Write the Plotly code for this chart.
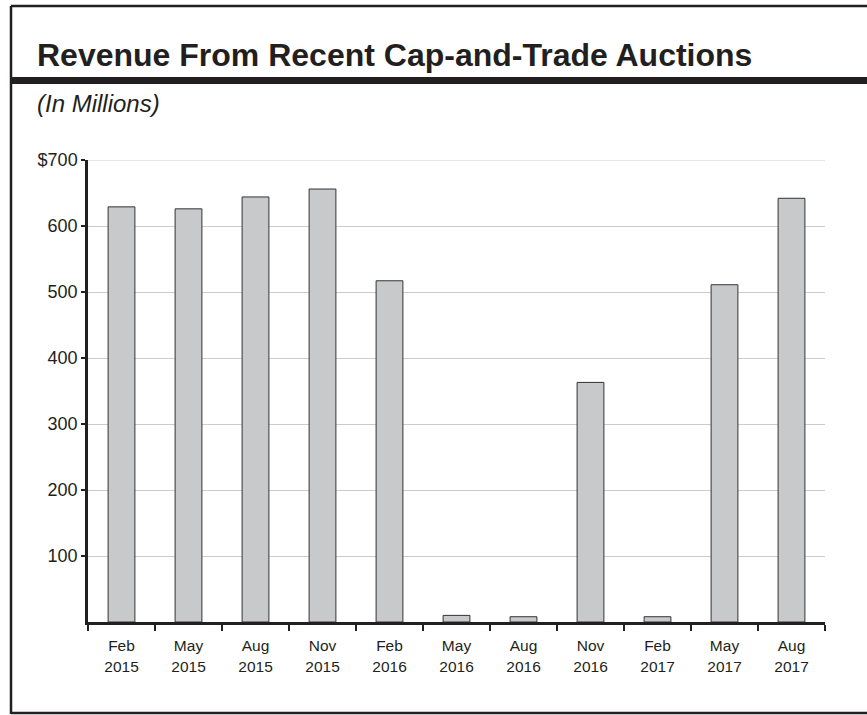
import plotly.graph_objects as go

categories = ["Feb<br>2015", "May<br>2015", "Aug<br>2015", "Nov<br>2015", "Feb<br>2016",
              "May<br>2016", "Aug<br>2016", "Nov<br>2016", "Feb<br>2017", "May<br>2017", "Aug<br>2017"]
revenue = [629, 626, 644, 656, 517, 10, 8, 363, 8, 511, 642]
tick_values = [100, 200, 300, 400, 500, 600, 700]
tick_labels = ["100", "200", "300", "400", "500", "600", "$700"]

W, H = 867, 715
L, R, T, B = 88, 825, 160, 622
pw, ph = R - L, B - T

def px(x):
    return (x - L) / pw

def py(y):
    return (B - y) / ph

FONT = "Liberation Sans, Arial, sans-serif"

fig = go.Figure(go.Bar(
    x=categories, y=revenue, width=0.4,
    marker=dict(color="#c8c9cb", line=dict(color="#333333", width=1)),
))

shapes = [
    # top gridline (at the range edge, which plotly skips)
    dict(type="line", xref="paper", yref="y", x0=0, x1=1, y0=tick_values[-1], y1=tick_values[-1],
         line=dict(color="#cccccc", width=1), layer="below"),
    # outer frame
    dict(type="line", xref="paper", yref="paper", x0=px(11), x1=px(868), y0=py(6), y1=py(6),
         line=dict(color="#231f20", width=2.5)),
    dict(type="line", xref="paper", yref="paper", x0=px(11), x1=px(11), y0=py(6), y1=py(714),
         line=dict(color="#231f20", width=2.5)),
    dict(type="line", xref="paper", yref="paper", x0=px(11), x1=px(868), y0=py(713), y1=py(713),
         line=dict(color="#231f20", width=2.5)),
    # thick title bar
    dict(type="rect", xref="paper", yref="paper", x0=px(11), x1=px(868), y0=py(77), y1=py(84),
         fillcolor="#231f20", line=dict(width=0)),
]

annotations = [
    dict(text="<b>Revenue From Recent Cap-and-Trade Auctions</b>", xref="paper", yref="paper",
         x=px(35), y=py(55), xanchor="left", yanchor="middle", showarrow=False,
         font=dict(family=FONT, size=32, color="#231f20")),
    dict(text="<i>(In Millions)</i>", xref="paper", yref="paper",
         x=px(35), y=py(103), xanchor="left", yanchor="middle", showarrow=False,
         font=dict(family=FONT, size=24, color="#231f20")),
]

fig.update_layout(
    width=W, height=H,
    margin=dict(l=L, r=W - R, t=T, b=H - B, pad=0),
    plot_bgcolor="white", paper_bgcolor="white",
    showlegend=False, bargap=0.6,
    shapes=shapes, annotations=annotations,
    font=dict(family=FONT, color="#231f20"),
)
fig.update_xaxes(
    type="category", tickson="boundaries", ticks="outside", ticklen=6, tickwidth=2,
    tickcolor="#231f20", showline=True, linecolor="#231f20", linewidth=2.5,
    showgrid=False, tickfont=dict(size=15.5, color="#231f20"), range=[-0.5, 10.5],
    ticklabelstandoff=8,
)
fig.update_yaxes(
    range=[0, 700], tickvals=tick_values, ticktext=tick_labels, ticks="outside", ticklen=4,
    tickwidth=2, tickcolor="#231f20", showline=True, linecolor="#231f20", linewidth=2.5,
    showgrid=True, gridcolor="#cccccc", gridwidth=1, zeroline=False,
    tickfont=dict(size=18, color="#231f20"),
)

fig.write_html("out.html")
